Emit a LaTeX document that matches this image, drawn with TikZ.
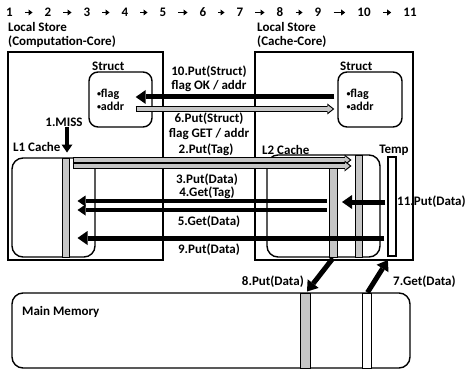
\documentclass[tikz,border=0pt]{standalone}
\usepackage{fontspec}
\setmainfont{Carlito}
\usetikzlibrary{arrows.meta}
% gray band arrow with a black rim
\newcommand\hatcharrow[2]{%
  \draw[line width=5.5pt,-{Triangle[length=7pt,width=11pt,line width=0pt]}] #1 -- #2;
  \draw[line width=3.2pt,gray!45,shorten <=1pt,shorten >=1.8pt,-{Triangle[length=4.5pt,width=7pt,line width=0pt]}] #1 -- #2;}
\newcommand\bul{{\fontsize{8}{8}\selectfont\raisebox{0.25ex}{•}}}
\begin{document}
\begin{tikzpicture}[x=1pt,y=1pt,
  lbl/.style={font=\fontsize{13}{15}\selectfont\bfseries,inner sep=0pt},
  frame/.style={draw,line width=1.4pt,minimum width=#1},
  cachebox/.style={draw,line width=1.4pt,rounded corners=11pt},
  structbox/.style={draw,line width=1.4pt,rounded corners=9pt,align=left,
    font=\fontsize{12}{13}\selectfont\bfseries,inner xsep=8pt,text width=47pt},
  band/.style={draw,line width=1pt,fill=gray!45,inner sep=0pt},
  bigarr/.style={line width=5pt,-{Triangle[length=10pt,width=14pt,line width=0pt]}},
  midarr/.style={line width=4pt,-{Triangle[length=8pt,width=11pt,line width=0pt]}},
  toparr/.style={line width=1.6pt,shorten <=12pt,shorten >=12pt,-{Triangle[length=4pt,width=6pt,line width=0pt]}}]
\useasboundingbox (0,0) rectangle (465,370);

% step order
\foreach \n/\x in {1/9.5,2/48,3/87,4/125,5/163,6/203,7/240,8/280,9/318,10/364,11/410}
  \node[lbl] (n\n) at (\x,357.5) {\n};
\foreach \a/\b in {1/2,2/3,3/4,4/5,5/6,6/7,7/8,8/9,9/10,10/11}
  \draw[toparr] (n\a) -- (n\b);

% local stores
\node[lbl,anchor=west] (lsL) at (8,343) {Local Store};
\node[lbl,anchor=west] (lsLsub) at (8,328) {(Computation-Core)};
\node[lbl,anchor=west] (lsR) at (257,343) {Local Store};
\node[lbl,anchor=west] (lsRsub) at (257,328) {(Cache-Core)};
\node[frame=155pt,minimum height=208pt] (coreL) at (85.5,214) {};
\node[frame=158pt,minimum height=208pt] (coreR) at (334,214) {};

% structs
\node[structbox,minimum height=55pt] (structL) at (120.5,270.5) {\bul flag\\\bul addr};
\node[structbox,minimum height=55pt,minimum width=64pt] (structR) at (370,270.5) {\bul flag\\\bul addr};
\node[lbl,anchor=west] (stL) at (92,304) {Struct};
\node[lbl,anchor=west] (stR) at (340,304) {Struct};

% caches and memory
\node[cachebox,minimum width=83pt,minimum height=99pt] (l1) at (53.5,162.5) {};
\node[cachebox,minimum width=113pt,minimum height=102pt] (l2) at (323.5,164) {};
\node[draw,line width=1.2pt,minimum width=8pt,minimum height=99pt,inner sep=0pt] (temp) at (392,163.5) {};
\node[cachebox,minimum width=398pt,minimum height=75pt] (mem) at (211,39.5) {};
\node[band,minimum width=7pt,minimum height=99pt] (l1line) at (65.5,162.5) {};
\node[band,minimum width=8pt,minimum height=93pt] (l2lineA) at (333.5,159.5) {};
\node[band,minimum width=7pt,minimum height=102pt] (l2lineB) at (358.5,164) {};
\node[band,minimum width=10pt,minimum height=75pt] (memline) at (305,39.5) {};
\node[band,fill=white,minimum width=9pt,minimum height=75pt] (memfree) at (366.5,39.5) {};

\node[lbl,anchor=west] (l1lbl) at (13,223) {L1 Cache};
\node[lbl,anchor=west] (l2lbl) at (262,220) {L2 Cache};
\node[lbl] (templbl) at (394,220) {Temp};
\node[lbl,anchor=west] (memlbl) at (22,58) {Main Memory};

% rows
\coordinate (rOK) at (0,273);
\coordinate (rGET) at (0,261);
\coordinate (rTag) at (0,210);
\coordinate (rData) at (0,204);
\coordinate (rGetTag) at (0,169);
\coordinate (rGetData) at (0,160);
\coordinate (rPut) at (0,132);
\coordinate (rTemp) at (0,168);

% transfers
\node[lbl] (miss) at (64,248) {1.MISS};
\draw[line width=3.5pt,-{Triangle[length=8pt,width=11pt,line width=0pt]},shorten >=5pt] ([xshift=3pt]miss.south) -- ([xshift=1.5pt]l1line.north);
\draw[bigarr] ([xshift=-3pt]structR.west |- rOK) -- ([xshift=-17pt]structL.east |- rOK);
\hatcharrow{([xshift=-17pt]structL.east |- rGET)}{([xshift=-3pt]structR.west |- rGET)}
\hatcharrow{([xshift=3pt]l1line.east |- rTag)}{([xshift=-3pt]l2lineB.west |- rTag)}
\hatcharrow{([xshift=3pt]l1line.east |- rData)}{([xshift=-3pt]l2lineB.west |- rData)}
\draw[midarr] ([xshift=-2pt]l2lineA.west |- rGetTag) -- ([xshift=8pt]l1line.east |- rGetTag);
\draw[midarr] ([xshift=-2pt]l2lineA.west |- rGetData) -- ([xshift=8pt]l1line.east |- rGetData);
\draw[bigarr] ([xshift=-3pt]temp.west |- rPut) -- ([xshift=8pt]l1line.east |- rPut);
\draw[bigarr] ([xshift=-2pt]temp.west |- rTemp) -- ([xshift=4pt]l2lineA.east |- rTemp);
\draw[bigarr,shorten <=1pt] (l2lineA.south) -- ([xshift=2pt,yshift=1pt]memline.north);
\draw[bigarr,shorten >=4pt] ([xshift=1pt]memfree.north) -- ([xshift=-2pt]temp.south);

\node[lbl] (t10) at (209,298) {10.Put(Struct)};
\node[lbl] (t10b) at (209,284) {flag OK / addr};
\node[lbl] (t6) at (209,251) {6.Put(Struct)};
\node[lbl] (t6b) at (209,236) {flag GET / addr};
\node[lbl] (t2) at (206,220.5) {2.Put(Tag)};
\node[lbl] (t3) at (207,190) {3.Put(Data)};
\node[lbl] (t4) at (207,177.5) {4.Get(Tag)};
\node[lbl] (t5) at (209,148) {5.Get(Data)};
\node[lbl] (t9) at (209,120) {9.Put(Data)};
\node[lbl,anchor=west] (t11) at (397,168) {11.Put(Data)};
\node[lbl,anchor=east] (t8) at (304,88) {8.Put(Data)};
\node[lbl,anchor=west] (t7) at (393,88) {7.Get(Data)};
\end{tikzpicture}
\end{document}
